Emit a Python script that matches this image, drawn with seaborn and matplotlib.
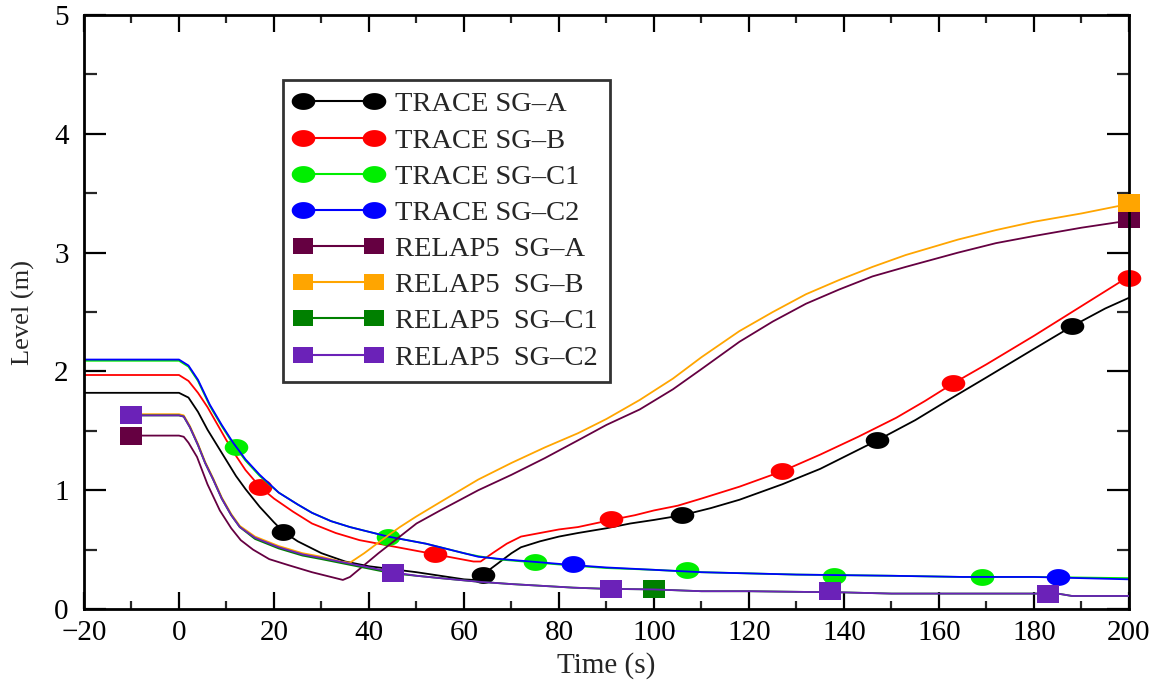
import numpy as np
import pandas as pd
import matplotlib
matplotlib.use("Agg")
import matplotlib.pyplot as plt
from matplotlib.lines import Line2D
import seaborn as sns

# ---------------- data ----------------
trace_a_t = [-20, 0, 2, 4, 6, 8, 10, 12, 14, 17, 20, 22, 25, 30, 35, 40, 46, 50, 55, 60, 62, 64, 67, 70, 72,
             76, 80, 84, 90, 95, 100, 106, 112, 118, 127, 135, 141, 147, 155, 162, 170, 180, 188, 195, 200]
trace_a_y = [1.82, 1.82, 1.78, 1.66, 1.51, 1.38, 1.25, 1.12, 1.01, 0.86, 0.73, 0.65, 0.57, 0.47, 0.40, 0.36,
             0.33, 0.31, 0.28, 0.25, 0.245, 0.29, 0.38, 0.47, 0.52, 0.57, 0.61, 0.64, 0.68, 0.72, 0.75, 0.79,
             0.85, 0.92, 1.05, 1.18, 1.30, 1.42, 1.59, 1.76, 1.95, 2.19, 2.38, 2.53, 2.62]
trace_a_mt = [22, 64, 106, 147, 188]
trace_a_my = [0.65, 0.29, 0.79, 1.42, 2.38]

trace_b_t = [-20, 0, 2, 4, 6, 8, 10, 12, 14, 17, 20, 24, 28, 33, 38, 42, 46, 50, 54, 58, 62, 63.5, 66, 69,
             72, 76, 80, 84, 91, 96, 100, 105, 110, 118, 127, 135, 143, 151, 157, 163, 170, 180, 190, 200]
trace_b_y = [1.97, 1.97, 1.92, 1.82, 1.70, 1.56, 1.42, 1.29, 1.17, 1.03, 0.93, 0.82, 0.72, 0.64, 0.58, 0.55,
             0.52, 0.49, 0.46, 0.43, 0.40, 0.40, 0.47, 0.55, 0.61, 0.64, 0.67, 0.69, 0.75, 0.79, 0.83, 0.87,
             0.93, 1.03, 1.16, 1.30, 1.45, 1.61, 1.75, 1.90, 2.06, 2.30, 2.55, 2.80]
trace_b_mt = [17, 54, 91, 127, 163, 200]
trace_b_my = [1.03, 0.46, 0.76, 1.16, 1.90, 2.79]

trace_c1_t = [-20, 0, 2, 4, 6.5, 9, 11.4, 14, 17, 21, 25, 28, 32, 36, 40, 44, 48, 52, 56, 60, 63, 68, 74,
              83, 90, 100, 110, 120, 130, 140, 150, 165, 180, 190, 200]
trace_c1_y = [2.09, 2.09, 2.04, 1.92, 1.71, 1.54, 1.39, 1.25, 1.12, 0.98, 0.88, 0.81, 0.74, 0.69, 0.65, 0.61,
              0.58, 0.55, 0.51, 0.47, 0.445, 0.415, 0.395, 0.365, 0.345, 0.33, 0.31, 0.30, 0.29, 0.285, 0.28,
              0.27, 0.27, 0.265, 0.26]
trace_c1_mt = [12, 44, 75, 107, 138, 169]
trace_c1_my = [1.36, 0.61, 0.40, 0.33, 0.28, 0.27]

trace_c2_t = [-20, 0, 2, 4, 6.5, 9, 11.4, 14, 17, 21, 25, 28, 32, 36, 40, 44, 48, 52, 56, 60, 63, 68, 74,
              83, 90, 100, 110, 120, 130, 140, 150, 165, 180, 190, 200]
trace_c2_y = [2.10, 2.10, 2.05, 1.93, 1.72, 1.55, 1.40, 1.26, 1.13, 0.98, 0.88, 0.81, 0.74, 0.69, 0.65, 0.61,
              0.58, 0.55, 0.51, 0.47, 0.44, 0.42, 0.40, 0.37, 0.35, 0.33, 0.31, 0.30, 0.29, 0.285, 0.28,
              0.27, 0.27, 0.26, 0.25]
trace_c2_mt = [83, 185]
trace_c2_my = [0.38, 0.27]

relap_a_t = [-10, 0, 1, 2, 3.8, 6, 8.6, 11, 13, 15.6, 19, 23, 28, 32, 34.5, 36, 39, 42, 46.5, 50, 55, 63,
             70, 77, 84, 90, 97, 104, 110, 118, 125, 132, 139, 146, 153, 164, 172, 180, 190, 200]
relap_a_y = [1.46, 1.46, 1.45, 1.40, 1.28, 1.05, 0.83, 0.68, 0.58, 0.50, 0.42, 0.37, 0.31, 0.27, 0.245,
             0.27, 0.37, 0.47, 0.61, 0.72, 0.83, 1.00, 1.13, 1.27, 1.42, 1.55, 1.68, 1.85, 2.02, 2.25, 2.42,
             2.57, 2.69, 2.80, 2.88, 3.00, 3.08, 3.14, 3.21, 3.27]
relap_a_mt = [-10, 200]
relap_a_my = [1.46, 3.28]

relap_b_t = [-10, 0, 1, 2.3, 4, 5.5, 7.2, 9, 11, 12.8, 16, 21, 26, 30, 34, 36, 39, 42, 46.5, 50, 55, 63,
             70, 77, 84, 90, 97, 104, 110, 118, 125, 132, 139, 146, 153, 164, 172, 180, 190, 200]
relap_b_y = [1.64, 1.64, 1.63, 1.54, 1.39, 1.24, 1.10, 0.94, 0.80, 0.70, 0.61, 0.53, 0.47, 0.44, 0.40,
             0.39, 0.47, 0.56, 0.69, 0.78, 0.90, 1.09, 1.23, 1.36, 1.48, 1.60, 1.76, 1.94, 2.12, 2.34, 2.50,
             2.65, 2.77, 2.88, 2.98, 3.11, 3.19, 3.26, 3.33, 3.41]
relap_b_mt = [200]
relap_b_my = [3.42]

relap_c1_t = [-10, 0, 1, 2.3, 4, 5.5, 7.2, 9, 11, 12.8, 16, 21, 26, 30, 35, 40, 45, 50, 55, 63, 70, 83,
              90, 100, 110, 120, 130, 140, 150, 185, 188, 200]
relap_c1_y = [1.63, 1.63, 1.62, 1.53, 1.38, 1.23, 1.09, 0.93, 0.79, 0.69, 0.59, 0.51, 0.45, 0.42, 0.38,
              0.34, 0.30, 0.28, 0.26, 0.23, 0.21, 0.18, 0.17, 0.165, 0.15, 0.15, 0.145, 0.14, 0.13, 0.13,
              0.11, 0.11]
relap_c1_mt = [100]
relap_c1_my = [0.17]

relap_c2_t = [-10, 0, 1, 2.3, 4, 5.5, 7.2, 9, 11, 12.8, 16, 21, 26, 30, 35, 40, 45, 50, 55, 63, 70, 83,
              90, 100, 110, 120, 130, 140, 150, 185, 188, 200]
relap_c2_y = [1.63, 1.63, 1.62, 1.53, 1.38, 1.23, 1.09, 0.93, 0.79, 0.69, 0.60, 0.52, 0.46, 0.43, 0.39,
              0.35, 0.31, 0.28, 0.26, 0.23, 0.21, 0.18, 0.17, 0.165, 0.15, 0.15, 0.145, 0.14, 0.13, 0.13,
              0.11, 0.11]
relap_c2_mt = [-10, 45, 91, 137, 183]
relap_c2_my = [1.63, 0.30, 0.17, 0.15, 0.13]

labels = ["TRACE SG\u2013A", "TRACE SG\u2013B", "TRACE SG\u2013C1", "TRACE SG\u2013C2",
          "RELAP5  SG\u2013A", "RELAP5  SG\u2013B", "RELAP5  SG\u2013C1", "RELAP5  SG\u2013C2"]
colors = ["#000000", "#ff0000", "#00ee00", "#0000ff", "#650041", "#ffa500", "#008000", "#6b22b8"]
x_ticks = [-20, 0, 20, 40, 60, 80, 100, 120, 140, 160, 180, 200]
y_ticks = [0, 1, 2, 3, 4, 5]

series = [
    (trace_a_t, trace_a_y, trace_a_mt, trace_a_my),
    (trace_b_t, trace_b_y, trace_b_mt, trace_b_my),
    (trace_c1_t, trace_c1_y, trace_c1_mt, trace_c1_my),
    (trace_c2_t, trace_c2_y, trace_c2_mt, trace_c2_my),
    (relap_a_t, relap_a_y, relap_a_mt, relap_a_my),
    (relap_b_t, relap_b_y, relap_b_mt, relap_b_my),
    (relap_c1_t, relap_c1_y, relap_c1_mt, relap_c1_my),
    (relap_c2_t, relap_c2_y, relap_c2_mt, relap_c2_my),
]

# ---------------- style ----------------
sns.set_theme(style="ticks")
plt.rcParams['font.family'] = ['Liberation Serif', 'DejaVu Serif']

# stretched markers (the reference is horizontally stretched)
th = np.linspace(0, 2 * np.pi, 40)
ellipse = [(np.cos(a), np.sin(a) / 1.4) for a in th]
rect = [(-1, -1 / 1.3), (1, -1 / 1.3), (1, 1 / 1.3), (-1, 1 / 1.3), (-1, -1 / 1.3)]
markers = [ellipse] * 4 + [rect] * 4
msizes = [17, 17, 17, 17, 16, 16, 16, 16]

fig = plt.figure(figsize=(11.68, 6.84), dpi=100)
ax = fig.add_axes([0.0719, 0.1096, 0.8947, 0.8684])

for i, (t, y, mt, my) in enumerate(series):
    df = pd.DataFrame({"t": t, "y": y})
    sns.lineplot(data=df, x="t", y="y", ax=ax, color=colors[i], lw=1.3, sort=False,
                 estimator=None, zorder=2 + i * 0.1)
    dm = pd.DataFrame({"t": mt, "y": my})
    sns.scatterplot(data=dm, x="t", y="y", ax=ax, marker=markers[i], s=msizes[i] ** 2,
                    color=colors[i], linewidth=0, zorder=2 + i * 0.1 + 0.05, clip_on=False)

ax.set_xlim(-20, 200)
ax.set_ylim(0, 5)
ax.set_xticks(x_ticks)
ax.set_yticks(y_ticks)
ax.set_xticks(np.arange(-10, 200, 20), minor=True)
ax.set_yticks(np.arange(0.5, 5, 1.0), minor=True)
ax.set_xticklabels([str(v).replace('-', '\u2212') for v in x_ticks])
ax.set_yticklabels([str(v) for v in y_ticks])
ax.tick_params(axis='x', which='major', direction='in', length=12, width=1.6, top=True,
               labelsize=21, pad=8, colors='black')
ax.tick_params(axis='x', which='minor', direction='in', length=6, width=1.6, top=True)
ax.tick_params(axis='y', which='major', direction='in', length=16, width=1.6, right=True,
               labelsize=21, pad=11, colors='black')
ax.tick_params(axis='y', which='minor', direction='in', length=9, width=1.6, right=True)
for sp in ax.spines.values():
    sp.set_linewidth(2.0)
    sp.set_color('black')
    sp.set_visible(True)

ax.set_xlabel("Time (s)", fontsize=21, labelpad=4)
ax.set_ylabel("Level (m)", fontsize=19)
ax.yaxis.set_label_coords(-0.047, 0.5)

handles = []
for i in range(8):
    handles.append(Line2D([0], [0], color=colors[i], lw=1.5, marker=markers[i],
                          markersize=17 if i < 4 else 15, markeredgewidth=0))
leg = ax.legend(handles, labels, loc='upper left', bbox_to_anchor=(0.1904, 0.8906),
                borderaxespad=0, fontsize=20.5, frameon=True, fancybox=False, numpoints=2,
                handlelength=3.1, handletextpad=0.45, labelspacing=0.36, borderpad=0.4,
                edgecolor='black')
leg.get_frame().set_linewidth(2.0)
leg.set_zorder(10)

fig.savefig("out.png", dpi=100)
